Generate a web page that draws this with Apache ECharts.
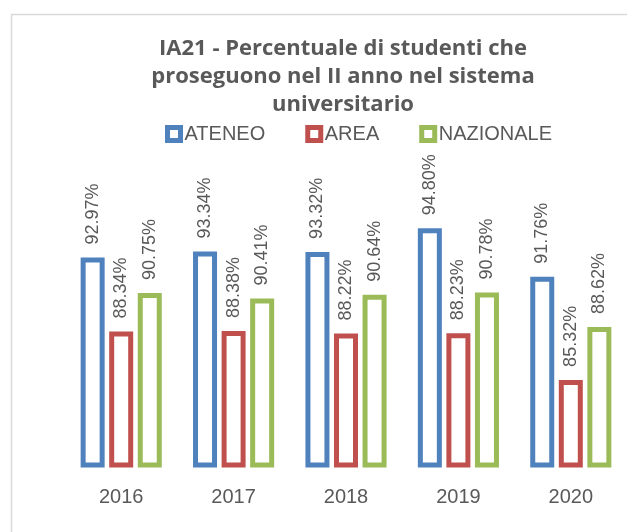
<!DOCTYPE html>
<html>
<head>
<meta charset="utf-8">
<script src="https://cdn.jsdelivr.net/npm/echarts@6/dist/echarts.min.js"></script>
<style>
  html, body { margin: 0; padding: 0; background: #fff; }
  #chart { width: 627px; height: 532px; }
</style>
</head>
<body>
<div id="chart"></div>
<script>
const years = ['2016', '2017', '2018', '2019', '2020']
const ateneo = [92.97, 93.34, 93.32, 94.80, 91.76]
const area = [88.34, 88.38, 88.22, 88.23, 85.32]
const nazionale = [90.75, 90.41, 90.64, 90.78, 88.62]

const seriesNames = ['ATENEO', 'AREA', 'NAZIONALE']
const seriesColors = ['#4F81BD', '#C0504D', '#9BBB59']
const seriesValues = [ateneo, area, nazionale]

const textColor = '#595959'
const fontFamily = '"Liberation Sans", Arial, sans-serif'

const chart = echarts.init(document.getElementById('chart'))

const option = {
  backgroundColor: '#fff',
  animation: false,
  title: {
    text: 'IA21 - Percentuale di studenti che\nproseguono nel II anno nel sistema\nuniversitario',
    left: 338,
    textAlign: 'center',
    top: 30,
    textStyle: {
      color: textColor,
      fontFamily: '"Open Sans", sans-serif',
      fontSize: 22,
      fontWeight: 'bold',
      lineHeight: 28
    }
  },
  legend: {
    top: 119,
    left: 160,
    itemWidth: 13,
    itemHeight: 13,
    itemGap: 40,
    icon: 'rect',
    textStyle: { color: textColor, fontFamily, fontSize: 20, padding: [0, 0, 0, -1] },
    data: seriesNames.map((name, i) => ({
      name,
      itemStyle: { color: '#fff', borderColor: seriesColors[i], borderWidth: 5 }
    }))
  },
  grid: { left: 65, right: -4, top: 145, bottom: 67 },
  xAxis: {
    type: 'category',
    data: years,
    axisLine: { show: false },
    axisTick: { show: false },
    axisLabel: { color: textColor, fontFamily, fontSize: 20, margin: 22 }
  },
  yAxis: {
    type: 'value',
    min: 80,
    max: 100,
    show: false,
    splitLine: { show: false }
  },
  series: seriesNames.map((name, i) => ({
    name,
    type: 'bar',
    data: seriesValues[i],
    barWidth: 24,
    barGap: '19%',
    itemStyle: { color: '#fff', borderColor: seriesColors[i], borderWidth: 5 },
    label: {
      show: true,
      position: 'top',
      rotate: 90,
      align: 'left',
      verticalAlign: 'middle',
      distance: 13,
      color: textColor,
      fontFamily,
      fontSize: 18,
      formatter: p => p.value.toFixed(2) + '%'
    }
  })),
  graphic: [{
    type: 'rect',
    silent: true,
    shape: { x: 11.5, y: 14.5, width: 700, height: 600 },
    style: { fill: 'none', stroke: '#d9d9d9', lineWidth: 1.5 }
  }]
}

chart.setOption(option)
</script>
</body>
</html>
